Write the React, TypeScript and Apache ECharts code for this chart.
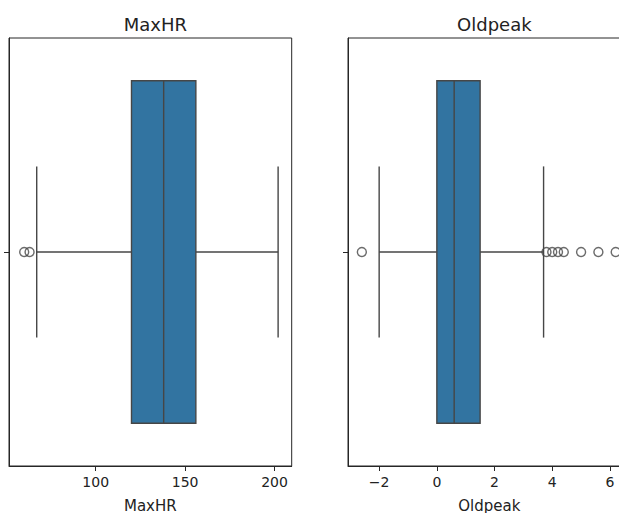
import React, { useEffect, useRef } from "react";
import * as echarts from "echarts";

const titles = ["MaxHR", "Oldpeak"];
// [lower whisker, Q1, median, Q3, upper whisker]
const maxHRStats = [67, 120, 138, 156, 202];
const maxHROutliers = [60, 63];
const oldpeakStats = [-2.0, 0, 0.6, 1.5, 3.7];
const oldpeakOutliers = [-2.6, 3.8, 4.0, 4.2, 4.4, 5.0, 5.6, 6.2];
const maxHRTicks = [100, 150, 200];
const oldpeakTicks = [-2, 0, 2, 4, 6];
const maxHRRange = [51.5, 209.6];
const oldpeakRange = [-3.08, 6.72];

const FONT = "DejaVu Sans";
const BOX_COLOR = "#3274a1";
const LINE_COLOR = "#464646";
const FRAME = "#262626";

function renderBox(params: any, api: any) {
  const lo = api.value(0);
  const q1 = api.value(1);
  const med = api.value(2);
  const q3 = api.value(3);
  const hi = api.value(4);
  const c = api.coord([q1, 0]);
  const yc = c[1];
  const band = api.size([0, 1])[1];
  const bh = band * 0.8;
  const ch = band * 0.4;
  const xlo = api.coord([lo, 0])[0];
  const xq1 = c[0];
  const xmed = api.coord([med, 0])[0];
  const xq3 = api.coord([q3, 0])[0];
  const xhi = api.coord([hi, 0])[0];
  const ls = { stroke: LINE_COLOR, lineWidth: 1.4 };
  return {
    type: "group",
    children: [
      { type: "line", shape: { x1: xlo, y1: yc, x2: xq1, y2: yc }, style: ls },
      { type: "line", shape: { x1: xq3, y1: yc, x2: xhi, y2: yc }, style: ls },
      { type: "line", shape: { x1: xlo, y1: yc - ch / 2, x2: xlo, y2: yc + ch / 2 }, style: ls },
      { type: "line", shape: { x1: xhi, y1: yc - ch / 2, x2: xhi, y2: yc + ch / 2 }, style: ls },
      {
        type: "rect",
        shape: { x: xq1, y: yc - bh / 2, width: xq3 - xq1, height: bh },
        style: { fill: BOX_COLOR, stroke: LINE_COLOR, lineWidth: 1.4 },
      },
      { type: "line", shape: { x1: xmed, y1: yc - bh / 2, x2: xmed, y2: yc + bh / 2 }, style: ls },
    ],
  };
}

export default function App() {
  const ref = useRef<HTMLDivElement>(null);
  useEffect(() => {
    if (!ref.current) return;
    const chart = echarts.init(ref.current, null, { renderer: "svg" });
    const grids = [
      { left: 9, top: 38, width: 282.7, height: 428 },
      { left: 348, top: 38, width: 282.7, height: 428 },
    ];
    const ranges = [maxHRRange, oldpeakRange];
    const ticks = [maxHRTicks, oldpeakTicks];
    const stats = [maxHRStats, oldpeakStats];
    const outs = [maxHROutliers, oldpeakOutliers];
    const option: any = {
      animation: false,
      backgroundColor: "#ffffff",
      textStyle: { fontFamily: FONT },
      title: titles.map((t, i) => ({
        text: t,
        left: grids[i].left + grids[i].width / 2,
        top: 10,
        textAlign: "center",
        textStyle: { fontFamily: FONT, fontSize: 18, fontWeight: "normal", color: "#222" },
      })),
      grid: grids.map((g) => ({
        ...g,
        show: true,
        containLabel: false,
        outerBoundsMode: "none",
        borderColor: FRAME,
        borderWidth: 1,
        backgroundColor: "transparent",
      })),
      xAxis: titles.map((t, i) => ({
        type: "value",
        gridIndex: i,
        min: ranges[i][0],
        max: ranges[i][1],
        name: t,
        nameLocation: "middle",
        nameGap: 32,
        nameTextStyle: { fontFamily: FONT, fontSize: 15, color: "#222" },
        axisLine: { show: true, onZero: false, lineStyle: { color: FRAME, width: 1 } },
        axisTick: { show: true, length: 5, customValues: ticks[i], lineStyle: { color: FRAME } },
        axisLabel: {
          customValues: ticks[i],
          margin: 9,
          fontFamily: FONT,
          fontSize: 14,
          color: "#222",
          formatter: (v: number) => (v < 0 ? "\u2212" + Math.abs(v) : String(v)),
        },
        splitLine: { show: false },
      })),
      yAxis: titles.map((t, i) => ({
        type: "category",
        gridIndex: i,
        data: [""],
        axisLine: { show: true, onZero: false, lineStyle: { color: FRAME, width: 1 } },
        axisTick: { show: true, length: 5, alignWithLabel: true, lineStyle: { color: FRAME } },
        axisLabel: { show: false },
        splitLine: { show: false },
      })),
      series: [
        ...stats.map((s, i) => ({
          type: "custom",
          xAxisIndex: i,
          yAxisIndex: i,
          renderItem: renderBox,
          encode: { x: [0, 1, 2, 3, 4], y: 5 },
          data: [[...s, 0]],
          z: 2,
        })),
        ...outs.map((o, i) => ({
          type: "scatter",
          xAxisIndex: i,
          yAxisIndex: i,
          symbol: "circle",
          symbolSize: 9,
          itemStyle: { color: "transparent", borderColor: LINE_COLOR, borderWidth: 1.4 },
          data: o.map((v) => [v, 0]),
          z: 3,
        })),
      ],
    };
    chart.setOption(option);
    return () => chart.dispose();
  }, []);
  return (
    <div
      ref={ref}
      style={{ position: "fixed", left: 0, top: 0, width: 619, height: 513, overflow: "hidden" }}
    />
  );
}
